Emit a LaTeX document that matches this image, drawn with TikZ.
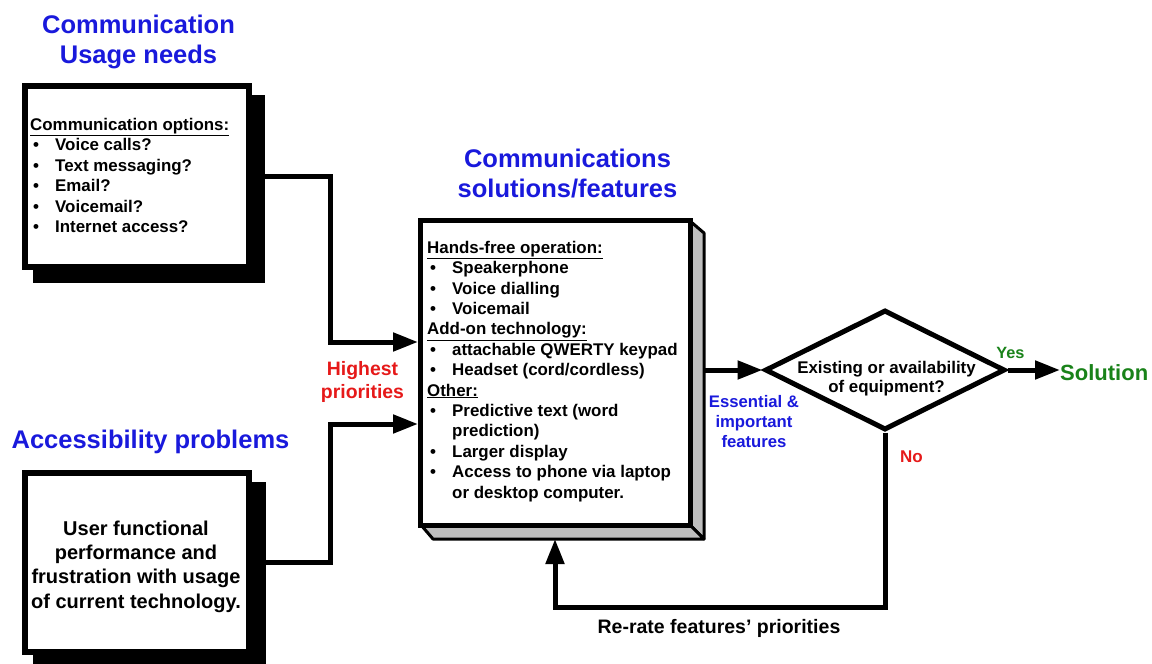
\documentclass[tikz,border=0pt]{standalone}
\usepackage{fontspec}
\setmainfont{Liberation Sans}
\usetikzlibrary{arrows.meta,shapes.geometric,calc}
\pgfdeclarelayer{background}
\pgfsetlayers{background,main}

\definecolor{headblue}{RGB}{25,25,220}
\definecolor{alertred}{RGB}{230,25,25}
\definecolor{okgreen}{RGB}{25,130,25}
\definecolor{bevelgray}{RGB}{190,190,190}

% bullet with its hanging indent
\newcommand\bl{\hspace*{3pt}\makebox[22pt][l]{\textbullet}}
\newcommand\fs[2]{\bfseries\fontsize{#1}{#2}\selectfont}

\tikzset{
  box/.style={draw=black, fill=white, line width=6pt, inner sep=0pt,
              minimum width=224pt},
  featbox/.style={draw=black, fill=white, line width=5pt, inner sep=0pt,
              minimum width=270pt, minimum height=305pt},
  decision/.style={diamond, draw=black, line width=5pt, inner sep=0pt,
              minimum width=240pt, minimum height=120pt},
  conn/.style={line width=5pt},
  arrow/.style={conn, -{Triangle[length=25pt,width=18pt]}},
  txt/.style={inner sep=0pt, text=black},
  heading/.style={inner sep=0pt, text=headblue, align=center, font=\fs{25.5}{30}},
  listtext/.style={txt, align=left, font=\fs{16.9}{20.4}},
}

\begin{document}
\begin{tikzpicture}[x=1pt,y=-1pt]
% (multi-line nodes are placed by the baseline of their last line)
\useasboundingbox (0,0) rectangle (1152,664);
\begin{pgfonlayer}{background}
  \fill[white] (0,0) rectangle (1152,664);
\end{pgfonlayer}

% ---- headings ----
\node[heading, anchor=base] (needshead) at (138.5,63) {Communication\\Usage needs};
\node[heading, anchor=base] (probshead) at (150.5,448) {Accessibility problems};
\node[heading, anchor=base] (feathead) at (567.5,197) {Communications\\solutions/features};

% ---- left-hand boxes ----
\node[box, minimum height=181pt] (needs) at (137,176.5) {};
\node[box, minimum height=179pt] (probs) at (137,562.5) {};
\begin{pgfonlayer}{background}
  \fill[black] ($(needs.south west)+(11,13)$) rectangle ($(needs.north east)+(13,12)$);
  \fill[black] ($(probs.south west)+(11,13)$) rectangle ($(probs.north east)+(14,12)$);
\end{pgfonlayer}

\node[listtext, anchor=base west] (needslist) at (30,232.5)
  {\underline{Communication options:}\\
   \bl Voice calls?\\
   \bl Text messaging?\\
   \bl Email?\\
   \bl Voicemail?\\
   \bl Internet access?};

\node[txt, anchor=base, align=center, font=\fs{20}{24.3}] (probstext) at (136,608)
  {User functional\\performance and\\frustration with usage\\of current technology.};

% ---- features box with bevelled edge ----
\node[featbox] (feat) at (555.5,373) {};
\begin{pgfonlayer}{background}
  \filldraw[fill=bevelgray, draw=black, line width=3pt, line join=round]
    ($(feat.north east)+(-3,3)$) -- ($(feat.north east)+(11,15)$)
    -- ($(feat.south east)+(11,11)$) -- ($(feat.south east)+(-3,-3)$) -- cycle;
  \filldraw[fill=bevelgray, draw=black, line width=3pt, line join=round]
    ($(feat.south west)+(3,-3)$) -- ($(feat.south west)+(15,11)$)
    -- ($(feat.south east)+(11,11)$) -- ($(feat.south east)+(-3,-3)$) -- cycle;
\end{pgfonlayer}
\coordinate (featside) at (703,370);
\coordinate (featbase) at (555,539);

\node[listtext, anchor=base west] (featlist) at (427,498)
  {\underline{Hands-free operation:}\\
   \bl Speakerphone\\
   \bl Voice dialling\\
   \bl Voicemail\\
   \underline{Add-on technology:}\\
   \bl attachable QWERTY keypad\\
   \bl Headset (cord/cordless)\\
   \underline{Other:}\\
   \bl Predictive text (word\\
   \hspace*{25pt}prediction)\\
   \bl Larger display\\
   \bl Access to phone via laptop\\
   \hspace*{25pt}or desktop computer.};

% ---- decision ----
\node[decision] (dec) at (885,370) {};
\node[txt, anchor=base, align=center, font=\fs{16.9}{19}] (dectext) at (886.5,392)
  {Existing or availability\\of equipment?};

\node[txt, anchor=base west, text=okgreen, font=\fs{22}{26}] (sol) at (1060,380) {Solution};

% ---- connector labels ----
\node[txt, anchor=base, align=center, text=alertred, font=\fs{19.4}{23}] (prio) at (362.5,398)
  {Highest\\priorities};
\node[txt, anchor=base, align=center, text=headblue, font=\fs{16.7}{20}] (ess) at (754,447)
  {Essential \&\\important\\features};
\node[txt, anchor=base, text=okgreen, font=\fs{16.3}{19}] (yes) at (1010.5,358) {Yes};
\node[txt, anchor=base, text=alertred, font=\fs{17}{20}] (no) at (911.5,462) {No};
\node[txt, anchor=base, font=\fs{19.5}{23}] (rerate) at (719,633) {Re-rate features’ priorities};

% ---- connectors ----
\coordinate (j1) at (330,342);
\coordinate (j2) at (330,424);
\draw[arrow] (needs.east) -| (j1) -- (j1 -| feat.west);
\draw[arrow] (probs.east) -| (j2) -- (j2 -| feat.west);
\draw[arrow] (featside) -- (dec.west);
\draw[arrow] (dec.east) -- (dec.east -| sol.west);
\draw[arrow] (dec.south) -- (dec.south |- 0,607) -| (featbase);
\end{tikzpicture}
\end{document}
